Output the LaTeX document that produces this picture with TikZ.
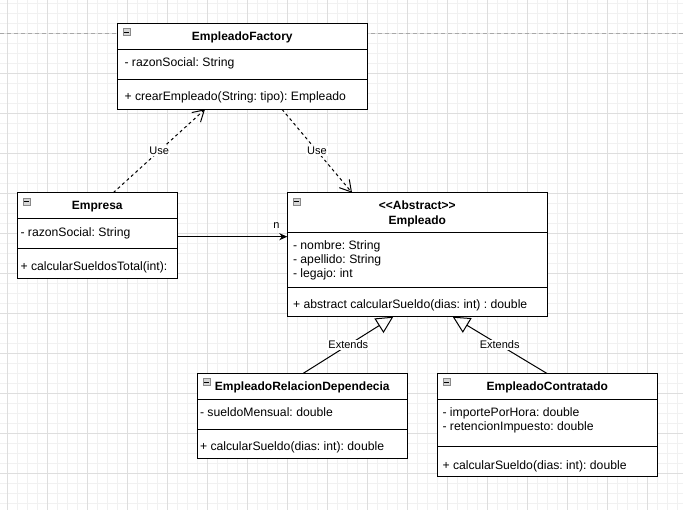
\documentclass[tikz,border=0pt]{standalone}
\usepackage{fontspec}
\setmainfont{Liberation Sans}[Ligatures=TeXOff]
\usetikzlibrary{arrows.meta,calc}
\frenchspacing

\definecolor{minorgrid}{HTML}{F1F1F1}
\definecolor{majorgrid}{HTML}{DEDEDE}
\definecolor{pagebreak}{HTML}{A8A8A8}
\definecolor{iconfill}{HTML}{D6D6D6}
\definecolor{iconline}{HTML}{8A8A8A}

\tikzset{
  minorline/.style={draw=minorgrid, line width=0.8pt},
  majorline/.style={draw=majorgrid, line width=0.8pt},
  pageline/.style={draw=pagebreak, line width=0.8pt, dash pattern=on 4pt off 3pt},
  classbox/.style={draw=black, fill=white, line width=1pt, anchor=north west,
    inner sep=0pt, outer sep=0pt},
  sepline/.style={draw=black, line width=1pt},
  titletext/.style={font=\fontsize{12}{14}\selectfont\bfseries, inner sep=0pt, anchor=base},
  membertext/.style={font=\fontsize{12.2}{14}\selectfont, inner sep=0pt, anchor=base west},
  edgelabel/.style={font=\fontsize{11}{13}\selectfont, fill=white, inner sep=1pt, solid},
  collapseicon/.style={draw=iconline, fill=iconfill, minimum size=7pt, inner sep=0pt,
    anchor=north west, line width=0.6pt,
    path picture={\draw[black, line width=0.8pt]
      ([xshift=1.4pt]path picture bounding box.west) --
      ([xshift=-1.4pt]path picture bounding box.east);}},
  uses/.style={line width=1pt, dash pattern=on 3pt off 3pt,
    -{Straight Barb[length=11pt,width=13pt]}},
  assoc/.style={line width=1pt, -{Stealth[length=8pt,width=7pt,inset=2.5pt]}},
  extends/.style={line width=1pt, -{Triangle[open,length=17pt,width=17pt]}},
}

\begin{document}
\begin{tikzpicture}[x=1pt,y=-1pt]
  % canvas and grid
  \fill[white] (0,0) rectangle (683,510);
  \useasboundingbox (0,0) rectangle (683,510);
  \foreach \k in {-1,...,67} \draw[minorline] ({7.3+10*\k},0) -- ({7.3+10*\k},510);
  \foreach \k in {-3,...,47} \draw[minorline] (0,{33.3+10*\k}) -- (683,{33.3+10*\k});
  \foreach \k in {0,...,16} \draw[majorline] ({7.3+40*\k},0) -- ({7.3+40*\k},510);
  \foreach \k in {0,...,11} \draw[majorline] (0,{33.3+40*\k}) -- (683,{33.3+40*\k});
  \draw[pageline] (0,33.3) -- (683,33.3);

  % EmpleadoFactory
  \node[classbox, minimum width=250pt, minimum height=86pt] (factory) at (117.3,23.3) {};
  \draw[sepline] ([yshift=-26pt]factory.north west) -- ([yshift=-26pt]factory.north east);
  \draw[sepline] ([yshift=-56pt]factory.north west) -- ([yshift=-56pt]factory.north east);
  \node[collapseicon] (factoryicon) at ([xshift=5.4pt,yshift=-5pt]factory.north west) {};
  \node[titletext] (factorytitle) at (242.3,40.6) {EmpleadoFactory};
  \node[membertext] (factoryattr) at (124.3,66.6) {- razonSocial: String};
  \node[membertext] (factoryop) at (124.3,100.6) {+ crearEmpleado(String: tipo): Empleado};

  % Empresa
  \node[classbox, minimum width=160pt, minimum height=86pt] (empresa) at (17.3,192.7) {};
  \draw[sepline] ([yshift=-26pt]empresa.north west) -- ([yshift=-26pt]empresa.north east);
  \draw[sepline] ([yshift=-56pt]empresa.north west) -- ([yshift=-56pt]empresa.north east);
  \node[collapseicon] (empresaicon) at ([xshift=5.4pt,yshift=-5pt]empresa.north west) {};
  \node[titletext] (empresatitle) at (97.3,210) {Empresa};
  \node[membertext] (empresaattr) at (20.3,236.2) {- razonSocial: String};
  \node[membertext] (empresaop) at (20.3,270.2) {+ calcularSueldosTotal(int):};

  % Empleado
  \node[classbox, minimum width=260pt, minimum height=124pt] (empleado) at (287.3,192.7) {};
  \draw[sepline] ([yshift=-40pt]empleado.north west) -- ([yshift=-40pt]empleado.north east);
  \draw[sepline] ([yshift=-94.6pt]empleado.north west) -- ([yshift=-94.6pt]empleado.north east);
  \node[collapseicon] (empleadoicon) at ([xshift=5.4pt,yshift=-5pt]empleado.north west) {};
  \node[titletext] (empleadostereo) at (417.3,209.3) {<<Abstract>>};
  \node[titletext] (empleadotitle) at (417.3,224.3) {Empleado};
  \node[membertext] (empleadoattra) at (292.8,250) {- nombre: String};
  \node[membertext] (empleadoattrb) at (292.8,264) {- apellido: String};
  \node[membertext] (empleadoattrc) at (292.8,278) {- legajo: int};
  \node[membertext] (empleadoop) at (292.8,308.4) {+ abstract calcularSueldo(dias: int) : double};

  % EmpleadoRelacionDependecia
  \node[classbox, minimum width=210pt, minimum height=85.4pt] (erd) at (197.3,373.3) {};
  \draw[sepline] ([yshift=-26pt]erd.north west) -- ([yshift=-26pt]erd.north east);
  \draw[sepline] ([yshift=-56pt]erd.north west) -- ([yshift=-56pt]erd.north east);
  \node[collapseicon] (erdicon) at ([xshift=5.4pt,yshift=-5pt]erd.north west) {};
  \node[titletext] (erdtitle) at (302.3,390.8) {EmpleadoRelacionDependecia};
  \node[membertext] (erdattr) at (199.8,417) {- sueldoMensual: double};
  \node[membertext] (erdop) at (199.8,451) {+ calcularSueldo(dias: int): double};

  % EmpleadoContratado
  \node[classbox, minimum width=220pt, minimum height=103.4pt] (ec) at (437.3,373.3) {};
  \draw[sepline] ([yshift=-26pt]ec.north west) -- ([yshift=-26pt]ec.north east);
  \draw[sepline] ([yshift=-73.4pt]ec.north west) -- ([yshift=-73.4pt]ec.north east);
  \node[collapseicon] (ecicon) at ([xshift=5.4pt,yshift=-5pt]ec.north west) {};
  \node[titletext] (ectitle) at (547.3,390.8) {EmpleadoContratado};
  \node[membertext] (ecattra) at (442.3,417) {- importePorHora: double};
  \node[membertext] (ecattrb) at (442.3,431) {- retencionImpuesto: double};
  \node[membertext] (ecop) at (442.3,469) {+ calcularSueldo(dias: int): double};

  % relations
  \draw[uses] ($(empresa.north west)+(96,0)$) -- node[edgelabel] {Use}
    ($(factory.south west)+(87.7,0)$);
  \draw[uses] ($(factory.south west)+(164.7,0)$) -- node[edgelabel] {Use}
    ($(empleado.north west)+(64.7,0)$);
  \draw[assoc] ($(empresa.north east)+(0,44)$) --
    node[pos=1, xshift=-10.8pt, yshift=11.5pt, inner sep=0pt,
      font=\fontsize{11}{13}\selectfont] (mult) {n}
    ($(empleado.north west)+(0,44)$);
  \draw[extends] ($(erd.north west)+(106,0)$) -- node[edgelabel] {Extends}
    ($(empleado.south west)+(106,0)$);
  \draw[extends] ($(ec.north west)+(109.4,0)$) -- node[edgelabel] {Extends}
    ($(empleado.south west)+(165.4,0)$);
\end{tikzpicture}
\end{document}
